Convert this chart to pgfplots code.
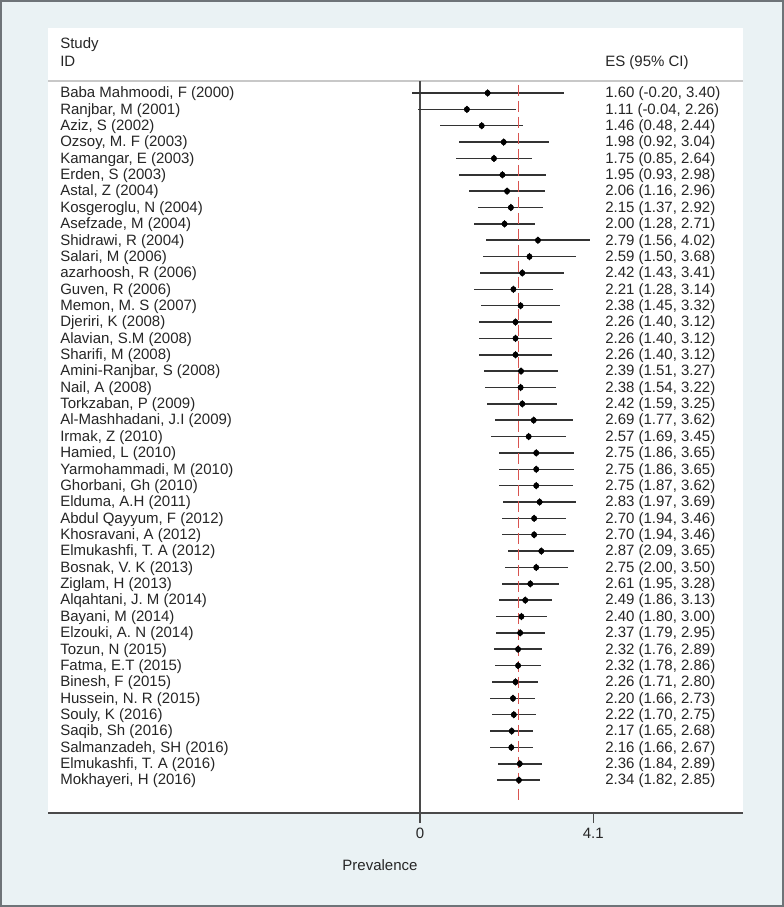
\documentclass[border=0pt]{standalone}
\usepackage{fontspec}
\setmainfont{Liberation Sans}
\usepackage{pgfplots}
\pgfplotsset{compat=1.18}
\usepackage{pgfplotstable}
\definecolor{bgout}{HTML}{EAF2F4}
\definecolor{framec}{HTML}{6E7478}
\definecolor{txt}{HTML}{262626}
\definecolor{ci}{HTML}{333333}
\definecolor{refred}{HTML}{D9534F}
\definecolor{hdr}{HTML}{C8C8C8}
\definecolor{axc}{HTML}{4A4A4A}

\pgfplotstableread{
row es lo hi
1 1.60 -0.20 3.40
2 1.11 -0.04 2.26
3 1.46 0.48 2.44
4 1.98 0.92 3.04
5 1.75 0.85 2.64
6 1.95 0.93 2.98
7 2.06 1.16 2.96
8 2.15 1.37 2.92
9 2.00 1.28 2.71
10 2.79 1.56 4.02
11 2.59 1.50 3.68
12 2.42 1.43 3.41
13 2.21 1.28 3.14
14 2.38 1.45 3.32
15 2.26 1.40 3.12
16 2.26 1.40 3.12
17 2.26 1.40 3.12
18 2.39 1.51 3.27
19 2.38 1.54 3.22
20 2.42 1.59 3.25
21 2.69 1.77 3.62
22 2.57 1.69 3.45
23 2.75 1.86 3.65
24 2.75 1.86 3.65
25 2.75 1.87 3.62
26 2.83 1.97 3.69
27 2.70 1.94 3.46
28 2.70 1.94 3.46
29 2.87 2.09 3.65
30 2.75 2.00 3.50
31 2.61 1.95 3.28
32 2.49 1.86 3.13
33 2.40 1.80 3.00
34 2.37 1.79 2.95
35 2.32 1.76 2.89
36 2.32 1.78 2.86
37 2.26 1.71 2.80
38 2.20 1.66 2.73
39 2.22 1.70 2.75
40 2.17 1.65 2.68
41 2.16 1.66 2.67
42 2.36 1.84 2.89
43 2.34 1.82 2.85
}\data

\newcommand{\fs}{\fontsize{11.25}{13}\selectfont}

\begin{document}
\begin{tikzpicture}
% outer background
\fill[bgout] (0,0) rectangle (588pt,-680.25pt);
\draw[framec, line width=1.5pt] (0.75pt,-0.75pt) rectangle (587.25pt,-679.5pt);

\begin{axis}[
  at={(36pt,-21pt)}, anchor=north west,
  scale only axis, width=521.25pt, height=588.75pt,
  xmin=-8.798, xmax=7.640, ymin=-45.01, ymax=2.973,
  axis x line*=bottom, axis y line=none,
  x axis line style={-, draw=axc, line width=1.2pt},
  xtick={0,4.1}, xticklabels={0,4.1},
  tick align=outside, major tick length=7.5pt,
  xtick style={draw=axc, line width=1pt},
  xticklabel style={font=\fs, text=txt},
  axis background/.style={fill=white},
  clip=false,
]
% header rule
\addplot[draw=hdr, line width=0.8pt] coordinates {(-8.798,-0.2665) (7.640,-0.2665)};
% null line
\addplot[draw=axc, line width=1.1pt] coordinates {(0,-0.2665) (0,-45.01)};
% confidence intervals
\addplot[only marks, mark=none, error bars/.cd, x dir=both, x explicit, error mark=none,
  error bar style={draw=ci, line width=1.15pt}]
  table[x=es, y expr=-\thisrow{row}, x error plus expr=\thisrow{hi}-\thisrow{es}, x error minus expr=\thisrow{es}-\thisrow{lo}] \data;
% overall estimate
\addplot[draw=refred, line width=0.8pt, dash pattern=on 8.5pt off 3.5pt] coordinates {(2.33,-0.51) (2.33,-44.52)};
% point estimates
\addplot[only marks, mark=diamond*, mark size=2.5pt, color=black] table[x=es, y expr=-\thisrow{row}] \data;
\end{axis}

\begin{scope}[x=0.75pt,y=-0.75pt]
\tikzset{lab/.style={anchor=west, inner sep=0pt, text height=0.716em, text depth=0pt, font=\fs, text=txt}}
\node[lab] at (60,43.3) {Study};
\node[lab] at (60,61.7) {ID};
\node[lab] at (605,61.7) {ES (95\% CI)};
\foreach \s/\e [count=\i] in {
{Baba Mahmoodi, F (2000)}/{1.60 (-0.20, 3.40)},
{Ranjbar, M (2001)}/{1.11 (-0.04, 2.26)},
{Aziz, S (2002)}/{1.46 (0.48, 2.44)},
{Ozsoy, M. F (2003)}/{1.98 (0.92, 3.04)},
{Kamangar, E (2003)}/{1.75 (0.85, 2.64)},
{Erden, S (2003)}/{1.95 (0.93, 2.98)},
{Astal, Z (2004)}/{2.06 (1.16, 2.96)},
{Kosgeroglu, N (2004)}/{2.15 (1.37, 2.92)},
{Asefzade, M (2004)}/{2.00 (1.28, 2.71)},
{Shidrawi, R (2004)}/{2.79 (1.56, 4.02)},
{Salari, M (2006)}/{2.59 (1.50, 3.68)},
{azarhoosh, R (2006)}/{2.42 (1.43, 3.41)},
{Guven, R (2006)}/{2.21 (1.28, 3.14)},
{Memon, M. S (2007)}/{2.38 (1.45, 3.32)},
{Djeriri, K (2008)}/{2.26 (1.40, 3.12)},
{Alavian, S.M (2008)}/{2.26 (1.40, 3.12)},
{Sharifi, M (2008)}/{2.26 (1.40, 3.12)},
{Amini-Ranjbar, S (2008)}/{2.39 (1.51, 3.27)},
{Nail, A (2008)}/{2.38 (1.54, 3.22)},
{Torkzaban, P (2009)}/{2.42 (1.59, 3.25)},
{Al-Mashhadani, J.I (2009)}/{2.69 (1.77, 3.62)},
{Irmak, Z (2010)}/{2.57 (1.69, 3.45)},
{Hamied, L (2010)}/{2.75 (1.86, 3.65)},
{Yarmohammadi, M (2010)}/{2.75 (1.86, 3.65)},
{Ghorbani, Gh (2010)}/{2.75 (1.87, 3.62)},
{Elduma, A.H (2011)}/{2.83 (1.97, 3.69)},
{Abdul Qayyum, F (2012)}/{2.70 (1.94, 3.46)},
{Khosravani, A (2012)}/{2.70 (1.94, 3.46)},
{Elmukashfi, T. A (2012)}/{2.87 (2.09, 3.65)},
{Bosnak, V. K (2013)}/{2.75 (2.00, 3.50)},
{Ziglam, H (2013)}/{2.61 (1.95, 3.28)},
{Alqahtani, J. M (2014)}/{2.49 (1.86, 3.13)},
{Bayani, M (2014)}/{2.40 (1.80, 3.00)},
{Elzouki, A. N (2014)}/{2.37 (1.79, 2.95)},
{Tozun, N (2015)}/{2.32 (1.76, 2.89)},
{Fatma, E.T (2015)}/{2.32 (1.78, 2.86)},
{Binesh, F (2015)}/{2.26 (1.71, 2.80)},
{Hussein, N. R (2015)}/{2.20 (1.66, 2.73)},
{Souly, K (2016)}/{2.22 (1.70, 2.75)},
{Saqib, Sh (2016)}/{2.17 (1.65, 2.68)},
{Salmanzadeh, SH (2016)}/{2.16 (1.66, 2.67)},
{Elmukashfi, T. A (2016)}/{2.36 (1.84, 2.89)},
{Mokhayeri, H (2016)}/{2.34 (1.82, 2.85)}} {
  \node[lab] at (60,{93+16.36*(\i-1)}) {\s};
  \node[lab] at (605,{93+16.36*(\i-1)}) {\e};
}
\node[font=\fs, text=txt, inner sep=0pt] at (380,865) {Prevalence};
\end{scope}
\pgfresetboundingbox
\path (0,0) rectangle (588pt,-680.25pt);
\end{tikzpicture}
\end{document}
